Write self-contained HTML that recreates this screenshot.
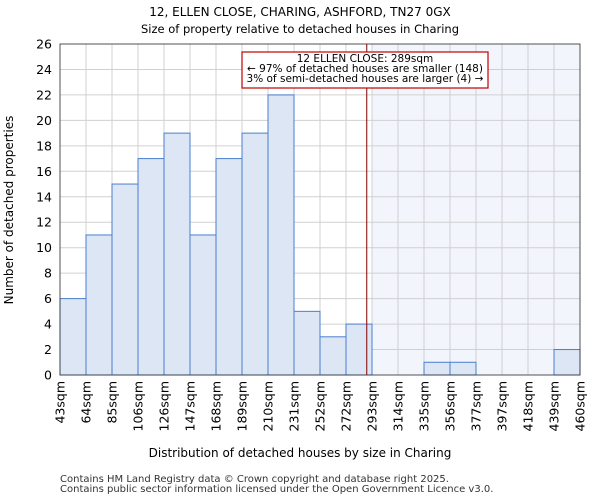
<!DOCTYPE html>
<html><head><style>
body{margin:0;background:#fff;font-family:"DejaVu Sans","Liberation Sans",sans-serif;}
</style></head><body>
<svg width="600" height="500" xmlns="http://www.w3.org/2000/svg" font-family="DejaVu Sans, Liberation Sans, sans-serif">
<text x="300" y="16" text-anchor="middle" font-size="12">12, ELLEN CLOSE, CHARING, ASHFORD, TN27 0GX</text>
<text x="300" y="33" text-anchor="middle" font-size="11.5">Size of property relative to detached houses in Charing</text>
<g id="plot"></g>
<text x="300" y="457" text-anchor="middle" font-size="12">Distribution of detached houses by size in Charing</text>
<text transform="translate(13,210) rotate(-90)" text-anchor="middle" font-size="12">Number of detached properties</text>
<text x="60" y="482" font-size="10" fill="#333">Contains HM Land Registry data © Crown copyright and database right 2025.</text>
<text x="60" y="492" font-size="10" fill="#333">Contains public sector information licensed under the Open Government Licence v3.0.</text>
</svg>
<script>
const categories=["43sqm","64sqm","85sqm","106sqm","126sqm","147sqm","168sqm","189sqm","210sqm","231sqm","252sqm","272sqm","293sqm","314sqm","335sqm","356sqm","377sqm","397sqm","418sqm","439sqm","460sqm"];
const counts=[6,11,15,17,19,11,17,19,22,5,3,4,0,0,1,1,0,0,0,2];
const yTicks=[0,2,4,6,8,10,12,14,16,18,20,22,24,26];
const markerValue=289;
const binStart=43, binWidthSqm=20.85;
const L=60,R=580,T=44,B=375,yMax=26;
const NS="http://www.w3.org/2000/svg";
const g=document.getElementById('plot');
const bw=(R-L)/counts.length;
const y=v=>B-(v/yMax)*(B-T);
const xs=v=>L+(v-binStart)/binWidthSqm*bw;
function el(t,a){const e=document.createElementNS(NS,t);for(const k in a)e.setAttribute(k,a[k]);g.appendChild(e);return e;}
let sh=el('rect',{x:L+12*bw,y:T,width:R-L-12*bw,height:B-T,fill:'#f2f5fc'});


yTicks.forEach(v=>{let l=el('line',{x1:L,x2:R,y1:y(v),y2:y(v),stroke:'#d0d0d0'});


let t=el('text',{x:L-8,y:y(v)+4.5,'text-anchor':'end','font-size':'12.5'});t.textContent=v;

});
categories.forEach((c,i)=>{const x=L+i*bw;let l=el('line',{x1:x,x2:x,y1:T,y2:B,stroke:'#d0d0d0'});


let t=el('text',{transform:`translate(${x+4.5},${B+6}) rotate(-90)`,'text-anchor':'end','font-size':'12.5'});t.textContent=c;

});
counts.forEach((v,i)=>{if(v<=0)return;let r=el('rect',{x:L+i*bw,y:y(v),width:bw,height:B-y(v),fill:'#dce6f4',stroke:'#4a7fcf','stroke-width':1});

});
let ax=el('rect',{x:L,y:T,width:R-L,height:B-T,fill:'none',stroke:'#333','stroke-width':0.8});


const mx=xs(markerValue);
let ml=el('line',{x1:mx,x2:mx,y1:T,y2:B,stroke:'#800000','stroke-width':1});


let bx=el('rect',{x:242,y:52,width:246,height:36,fill:'#fff',stroke:'#c00000','stroke-width':1.2});


["12 ELLEN CLOSE: 289sqm","← 97% of detached houses are smaller (148)","3% of semi-detached houses are larger (4) →"].forEach((s,i)=>{let t=el('text',{x:365,y:62+i*10,'text-anchor':'middle','font-size':'10.5'});t.textContent=s;

});
</script>
</body></html>
